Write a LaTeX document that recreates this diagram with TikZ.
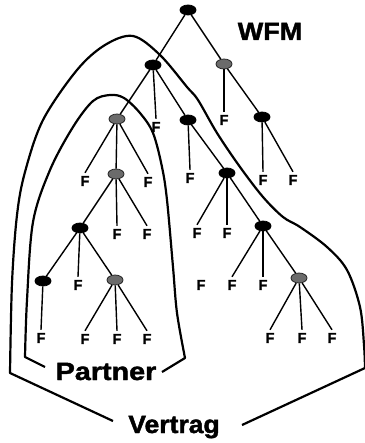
\documentclass[tikz,border=0pt]{standalone}
\usepackage{fontspec}
\setmainfont{Liberation Sans}[BoldFeatures={FakeBold=1.6}]
\usetikzlibrary{shapes.geometric}
\begin{document}
\begin{tikzpicture}[x=1pt,y=-1pt,
  knot/.style={ellipse,draw=black,line width=0.8pt,fill=black,minimum width=16pt,minimum height=10pt,inner sep=0pt},
  gknot/.style={knot,fill=black!58,draw=black!85},
  leaf/.style={inner sep=3pt,font=\fontsize{14.5}{14.5}\selectfont\bfseries},
  label/.style={inner sep=0pt,font=\fontsize{25}{25}\selectfont\bfseries},
  edge/.style={line width=1.4pt},
  region/.style={line width=2.2pt,line join=round}]
\useasboundingbox (0,0) rectangle (364,443);

% inner nodes
\node[knot]  (r) at (188,10) {};
\node[knot]  (a) at (153,65) {};
\node[gknot] (b) at (224,64) {};
\node[knot]  (c) at (262,117) {};
\node[gknot] (d) at (117,119) {};
\node[knot]  (e) at (188,120) {};
\node[knot]  (g) at (227,173) {};
\node[gknot] (h) at (116,174) {};
\node[knot]  (i) at (80,228) {};
\node[knot]  (j) at (263,226) {};
\node[knot]  (k) at (43,281) {};
\node[gknot] (l) at (115,280) {};
\node[gknot] (m) at (299,278) {};

% leaves
\node[leaf] (fa)  at (156,127) {F};
\node[leaf] (fb)  at (224,120) {F};
\node[leaf] (fc1) at (263,180) {F};
\node[leaf] (fc2) at (293,180) {F};
\node[leaf] (fd1) at (85,181) {F};
\node[leaf] (fd2) at (148,182) {F};
\node[leaf] (fe)  at (190,178) {F};
\node[leaf] (fh1) at (117,234) {F};
\node[leaf] (fh2) at (147,234) {F};
\node[leaf] (fg1) at (197,233) {F};
\node[leaf] (fg2) at (227,233) {F};
\node[leaf] (fi)  at (78,285) {F};
\node[leaf] (fx)  at (201,285) {F};
\node[leaf] (fj1) at (232,285) {F};
\node[leaf] (fj2) at (263,285) {F};
\node[leaf] (fk)  at (41,338) {F};
\node[leaf] (fl1) at (85,339) {F};
\node[leaf] (fl2) at (117,339) {F};
\node[leaf] (fl3) at (147,339) {F};
\node[leaf] (fm1) at (270,338) {F};
\node[leaf] (fm2) at (302,338) {F};
\node[leaf] (fm3) at (332,338) {F};

% tree edges
\draw[edge] (r) -- (a);
\draw[edge] (r) -- (b);
\draw[edge] (a) -- (d);
\draw[edge] (a) -- (fa.north);
\draw[edge] (a) -- (e);
\draw[edge] (b) -- (fb.north);
\draw[edge] (b) -- (c);
\draw[edge] (c) -- (fc1.north);
\draw[edge] (c) -- (fc2.north);
\draw[edge] (d) -- (fd1.north);
\draw[edge] (d) -- (h);
\draw[edge] (d) -- (fd2.north);
\draw[edge] (e) -- (fe.north);
\draw[edge] (e) -- (g);
\draw[edge] (h) -- (i);
\draw[edge] (h) -- (fh1.north);
\draw[edge] (h) -- (fh2.north);
\draw[edge] (g) -- (fg1.north);
\draw[edge] (g) -- (fg2.north);
\draw[edge] (g) -- (j);
\draw[edge] (i) -- (k);
\draw[edge] (i) -- (fi.north);
\draw[edge] (i) -- (l);
\draw[edge] (j) -- (fj1.north);
\draw[edge] (j) -- (fj2.north);
\draw[edge] (j) -- (m);
\draw[edge] (k) -- (fk.north);
\draw[edge] (l) -- (fl1.north);
\draw[edge] (l) -- (fl2.north);
\draw[edge] (l) -- (fl3.north);
\draw[edge] (m) -- (fm1.north);
\draw[edge] (m) -- (fm2.north);
\draw[edge] (m) -- (fm3.north);

% labels
\node[label,anchor=base] (wfm)     at (270,40)  {\scalebox{1.08}[1]{WFM}};
\node[label,anchor=base] (partner) at (106,380) {\scalebox{1.15}[1]{Partner}};
\node[label,anchor=base] (vertrag) at (174,433) {\scalebox{1.06}[1]{Vertrag}};

% ends of the region outlines beside their labels
\coordinate (p1) at (45,367);
\coordinate (p2) at (162,372);
\coordinate (v1) at (113,421);
\coordinate (v2) at (242,425);

% region "Partner"
\draw[region] (p1) -- (25,357) -- plot[smooth,tension=0.55] coordinates {
  (25,357) (27,300) (33,222) (50,170) (73,127) (93,101) (110,95) (124,98)
  (140,113) (153,133) (162,167) (167,200) (173,267) (177,313) (185,358)}
  -- (p2);

% region "Vertrag"
\draw[region] (v1) -- (10,373) -- plot[smooth,tension=0.55] coordinates {
  (10,373) (12,283) (17,215) (25,172) (43,120) (77,70) (105,45) (133,36)
  (160,55) (187,87) (198,100) (217,133) (240,167) (263,197) (283,217)
  (300,227) (327,247) (347,270) (360,307) (364,345) (365,368)}
  -- (v2);
\end{tikzpicture}
\end{document}
